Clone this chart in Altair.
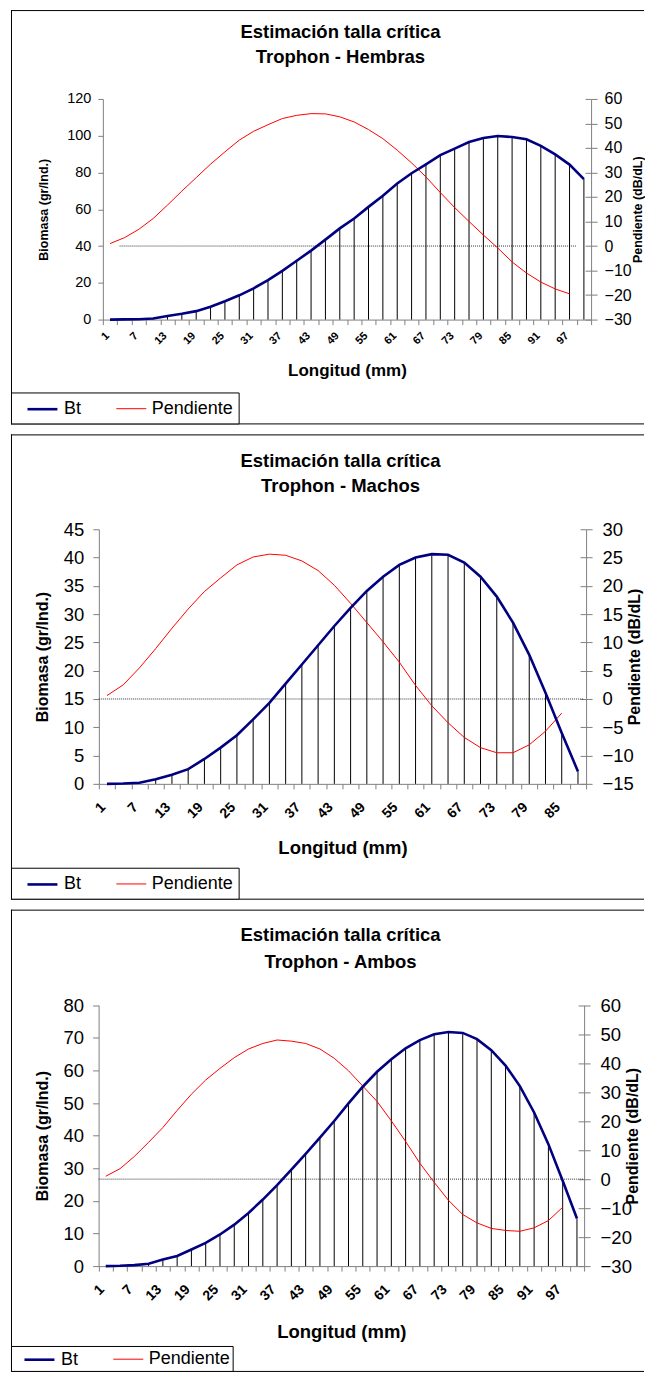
import altair as alt
import pandas as pd

FONT = "Liberation Sans"
BLUE = "#000080"
RED = "#FF0000"
GRAY = "#808080"
TITLE1 = "Estimación talla crítica"

# ---------------- Hembras ----------------
h_longitud = [1, 4, 7, 10, 13, 16, 19, 22, 25, 28, 31, 34, 37, 40, 43, 46, 49,
              52, 55, 58, 61, 64, 67, 70, 73, 76, 79, 82, 85, 88, 91, 94, 97, 100]
h_bt = [0.0, 0.1, 0.2, 0.6, 2.0, 3.2, 4.6, 7.0, 10.0, 13.2, 17.0, 21.5, 26.5, 32.0,
        37.5, 43.5, 49.6, 55.0, 61.3, 67.3, 74.0, 79.6, 84.4, 89.4, 93.0, 96.6,
        98.8, 99.8, 99.3, 98.1, 94.5, 89.8, 84.3, 76.4]
h_pend = [1.0, 3.4, 6.8, 11.2, 16.7, 22.4, 27.9, 33.4, 38.4, 43.2, 46.8, 49.5, 52.0,
          53.3, 54.0, 53.9, 52.7, 50.6, 47.5, 43.8, 39.1, 33.9, 28.2, 21.8, 15.7,
          10.0, 4.5, -0.8, -6.5, -11.0, -14.7, -17.5, -19.5]
h_bt_ticks = [0, 20, 40, 60, 80, 100, 120]
h_pend_ticks = [-30, -20, -10, 0, 10, 20, 30, 40, 50, 60]
h_zero = [3.0, 98.5]

# ---------------- Machos ----------------
m_longitud = [1, 4, 7, 10, 13, 16, 19, 22, 25, 28, 31, 34, 37, 40, 43, 46, 49,
              52, 55, 58, 61, 64, 67, 70, 73, 76, 79, 82, 85, 88]
m_bt = [0.0, 0.05, 0.2, 0.8, 1.6, 2.6, 4.4, 6.4, 8.6, 11.4, 14.3, 17.7, 21.1, 24.5,
        27.9, 31.1, 34.1, 36.6, 38.7, 40.0, 40.6, 40.5, 39.1, 36.6, 33.1, 28.5,
        22.8, 16.1, 9.0, 2.2]
m_pend = [0.6, 2.5, 5.5, 8.9, 12.5, 15.9, 19.0, 21.4, 23.7, 25.1, 25.6, 25.4, 24.4,
          22.7, 20.1, 16.9, 13.5, 10.1, 6.5, 2.4, -1.2, -4.2, -6.8, -8.6, -9.5,
          -9.5, -8.1, -5.7, -2.5]
m_bt_ticks = [0, 5, 10, 15, 20, 25, 30, 35, 40, 45]
m_pend_ticks = [-15, -10, -5, 0, 5, 10, 15, 20, 25, 30]
m_zero = [-0.5, 89.0]

# ---------------- Ambos ----------------
a_longitud = [1, 4, 7, 10, 13, 16, 19, 22, 25, 28, 31, 34, 37, 40, 43, 46, 49,
              52, 55, 58, 61, 64, 67, 70, 73, 76, 79, 82, 85, 88, 91, 94, 97, 100]
a_bt = [0.0, 0.1, 0.3, 0.7, 2.0, 3.1, 5.1, 7.1, 9.7, 12.7, 16.3, 20.4, 24.8, 29.6,
        34.4, 39.4, 44.5, 49.9, 55.0, 59.6, 63.4, 66.8, 69.3, 71.1, 71.8, 71.5,
        69.6, 66.2, 61.5, 55.2, 47.1, 37.4, 26.2, 14.6]
a_pend = [1.0, 3.6, 7.8, 12.7, 17.8, 23.7, 29.3, 34.2, 38.2, 41.9, 44.9, 46.8, 48.0,
          47.6, 46.8, 44.9, 41.7, 37.4, 32.1, 26.8, 20.1, 13.0, 5.5, -1.1, -7.3,
          -12.2, -15.1, -17.0, -17.7, -18.0, -16.8, -14.3, -9.7]
a_bt_ticks = [0, 10, 20, 30, 40, 50, 60, 70, 80]
a_pend_ticks = [-30, -20, -10, 0, 10, 20, 30, 40, 50, 60]
a_zero = [-0.5, 101.5]

series_names = ["Bt", "Pendiente"]
ONE = pd.DataFrame({"k": [0]})


def frame_rule(**enc):
    return alt.Chart(ONE).mark_rule(color="black", strokeWidth=1).encode(**enc)


def panel(subtitle, longitud, bt, pend, bt_ticks, pend_ticks, zero, lay):
    W, H = lay["W"], lay["H"]
    L, R, T, B = lay["plot"]
    step = longitud[1] - longitud[0]
    xdom = [longitud[0] - step / 2, longitud[-1] + step / 2]
    bounds = [xdom[0] + step * i for i in range(len(longitud) + 1)]
    xoff = -(H - B)

    xscale = alt.Scale(domain=xdom, range=[L, R], nice=False, zero=False)
    ybt = alt.Scale(domain=[bt_ticks[0], bt_ticks[-1]], range=[B, T], nice=False, zero=False)
    ype = alt.Scale(domain=[pend_ticks[0], pend_ticks[-1]], range=[B, T], nice=False, zero=False)

    df_bt = pd.DataFrame({"Longitud": longitud, "valor": bt, "serie": "Bt"})
    df_pe = pd.DataFrame({"Longitud": longitud[:len(pend)], "valor": pend, "serie": "Pendiente"})
    df_zero = pd.DataFrame({"x": [zero[0]], "x2": [zero[1]], "y": [0]})

    color = alt.Color(
        "serie:N",
        scale=alt.Scale(domain=series_names, range=[BLUE, RED]),
        legend=alt.Legend(
            orient="none", legendX=lay["legend"][0], legendY=lay["legend"][1],
            direction="horizontal", title=None, strokeColor="black", fillColor="white",
            padding=lay["legpad"], symbolType="M-1.5,0H1.5", symbolSize=400,
            symbolOffset=15, labelFontSize=18, labelFont=FONT, labelColor="black",
            columnPadding=24, labelOffset=10,
        ),
    )
    sw = alt.StrokeWidth("serie:N", scale=alt.Scale(domain=series_names, range=[2.6, 1.0]))

    zero_rule = alt.Chart(df_zero).mark_rule(color="#333333", strokeWidth=1, strokeDash=[1, 1]).encode(
        x=alt.X("x:Q", scale=xscale, axis=None),
        x2="x2:Q",
        y=alt.Y("y:Q", scale=ype, axis=alt.Axis(
            orient="right", offset=-(W - R) - 6, values=pend_ticks, labels=False,
            domain=False, ticks=True, tickSize=6, tickColor=GRAY, grid=False, title=None)),
    )

    rules = alt.Chart(df_bt).mark_rule(color="black", strokeWidth=1).encode(
        x=alt.X("Longitud:Q", scale=xscale, axis=alt.Axis(
            orient="bottom", values=bounds, labels=False, domain=False, ticks=True, tickSize=5,
            tickColor=GRAY, grid=False, title=None, offset=xoff)),
        y=alt.Y("valor:Q", scale=ybt, axis=None),
        y2=alt.datum(0),
    )

    pend_line = alt.Chart(df_pe).mark_line().encode(
        x=alt.X("Longitud:Q", scale=xscale, axis=None),
        y=alt.Y("valor:Q", scale=ype, axis=alt.Axis(
            orient="right", offset=-(W - R), values=pend_ticks, tickSize=6, grid=False,
            labelFontSize=lay["rtickfs"], labelPadding=lay["rlp"], labelFlush=False,
            labelOverlap=False, title="Pendiente (dB/dL)", titleFontSize=lay["ytfs"],
            titleFontWeight="bold", titleAngle=270, titlePadding=lay["rtp"])),
        color=color,
        strokeWidth=sw,
    )

    bt_line = alt.Chart(df_bt).mark_line().encode(
        x=alt.X("Longitud:Q", scale=xscale, axis=alt.Axis(
            orient="bottom", values=longitud[::2], labelAngle=-45, ticks=False, domain=True,
            labelFontSize=lay["xlfs"], labelFontWeight="bold", labelPadding=lay["xlp"],
            labelOffset=lay["xlo"], labelFlush=False, labelOverlap=False, grid=False,
            offset=xoff, title="Longitud (mm)", titleFontSize=lay["xtfs"],
            titleFontWeight="bold", titlePadding=lay["xtp"])),
        y=alt.Y("valor:Q", scale=ybt, axis=alt.Axis(
            orient="left", offset=-L, values=bt_ticks, tickSize=lay["ltick"], grid=False,
            labelFontSize=lay["ltickfs"], labelPadding=lay["llp"], labelFlush=False,
            labelOverlap=False, title="Biomasa (gr/Ind.)", titleFontSize=lay["ytfs"],
            titleFontWeight="bold", titlePadding=lay["ltp"])),
        color=color,
        strokeWidth=sw,
    )

    t1 = alt.Chart(pd.DataFrame({"t": [TITLE1]})).mark_text(
        font=FONT, fontSize=lay["titfs"], fontWeight="bold", align="center", baseline="middle",
        color="black").encode(text="t:N", x=alt.value(lay["title_x"]), y=alt.value(lay["title_y"][0]))
    t2 = alt.Chart(pd.DataFrame({"t": [subtitle]})).mark_text(
        font=FONT, fontSize=lay["titfs"], fontWeight="bold", align="center", baseline="middle",
        color="black").encode(text="t:N", x=alt.value(lay["title_x"]), y=alt.value(lay["title_y"][1]))

    top = frame_rule(x=alt.value(0), x2=alt.value(W), y=alt.value(0.5))
    left = frame_rule(x=alt.value(0.5), y=alt.value(0), y2=alt.value(H))
    bottom = frame_rule(x=alt.value(0), x2=alt.value(W), y=alt.value(H - 0.5))

    return alt.layer(zero_rule, rules, pend_line, bt_line, t1, t2, top, left, bottom).resolve_scale(
        y="independent").resolve_axis(x="independent").properties(width=W, height=H)


lay1 = dict(W=634, H=415, plot=(92, 581, 89, 310), title_x=330, title_y=(22.3, 47.3),
            legend=(0, 383), legpad=5, ltickfs=14.5, rtickfs=16, ltick=5, llp=7, rlp=7,
            xlfs=11, xlp=10, xlo=-7, ytfs=12.5, xtfs=17, titfs=18.5,
            ltp=16, rtp=13, xtp=17)
lay2 = dict(W=634, H=466, plot=(88, 576, 95, 350), title_x=330, title_y=(26.2, 51.2),
            legend=(0, 434), legpad=5, ltickfs=18.5, rtickfs=18.5, ltick=6, llp=9, rlp=10,
            xlfs=14, xlp=16, xlo=-9, ytfs=16, xtfs=18.5, titfs=18.5,
            ltp=13, rtp=9, xtp=18)
lay3 = dict(W=634, H=463, plot=(87.75, 574, 95.7, 357), title_x=330, title_y=(25.5, 52.2),
            legend=(0, 437), legpad=2, ltickfs=18.5, rtickfs=18.5, ltick=6, llp=9, rlp=10,
            xlfs=14, xlp=16, xlo=-9, ytfs=16, xtfs=18.5, titfs=18.5,
            ltp=13, rtp=9, xtp=20)

p1 = panel("Trophon - Hembras", h_longitud, h_bt, h_pend, h_bt_ticks, h_pend_ticks, h_zero, lay1)
p2 = panel("Trophon - Machos", m_longitud, m_bt, m_pend, m_bt_ticks, m_pend_ticks, m_zero, lay2)
p3 = panel("Trophon - Ambos", a_longitud, a_bt, a_pend, a_bt_ticks, a_pend_ticks, a_zero, lay3)

chart = alt.vconcat(p1, p2, p3, spacing=8).resolve_scale(
    color="independent", strokeWidth="independent"
).properties(
    padding={"left": 2, "top": 0, "right": 0, "bottom": 0}
).configure_view(
    stroke="transparent", strokeWidth=0
).configure_axis(
    labelFont=FONT, titleFont=FONT, labelColor="black", titleColor="black",
    domainColor=GRAY, tickColor=GRAY, grid=False
).configure_legend(labelFont=FONT)

chart.save("out.html", embed_options={"renderer": "svg", "actions": False})
